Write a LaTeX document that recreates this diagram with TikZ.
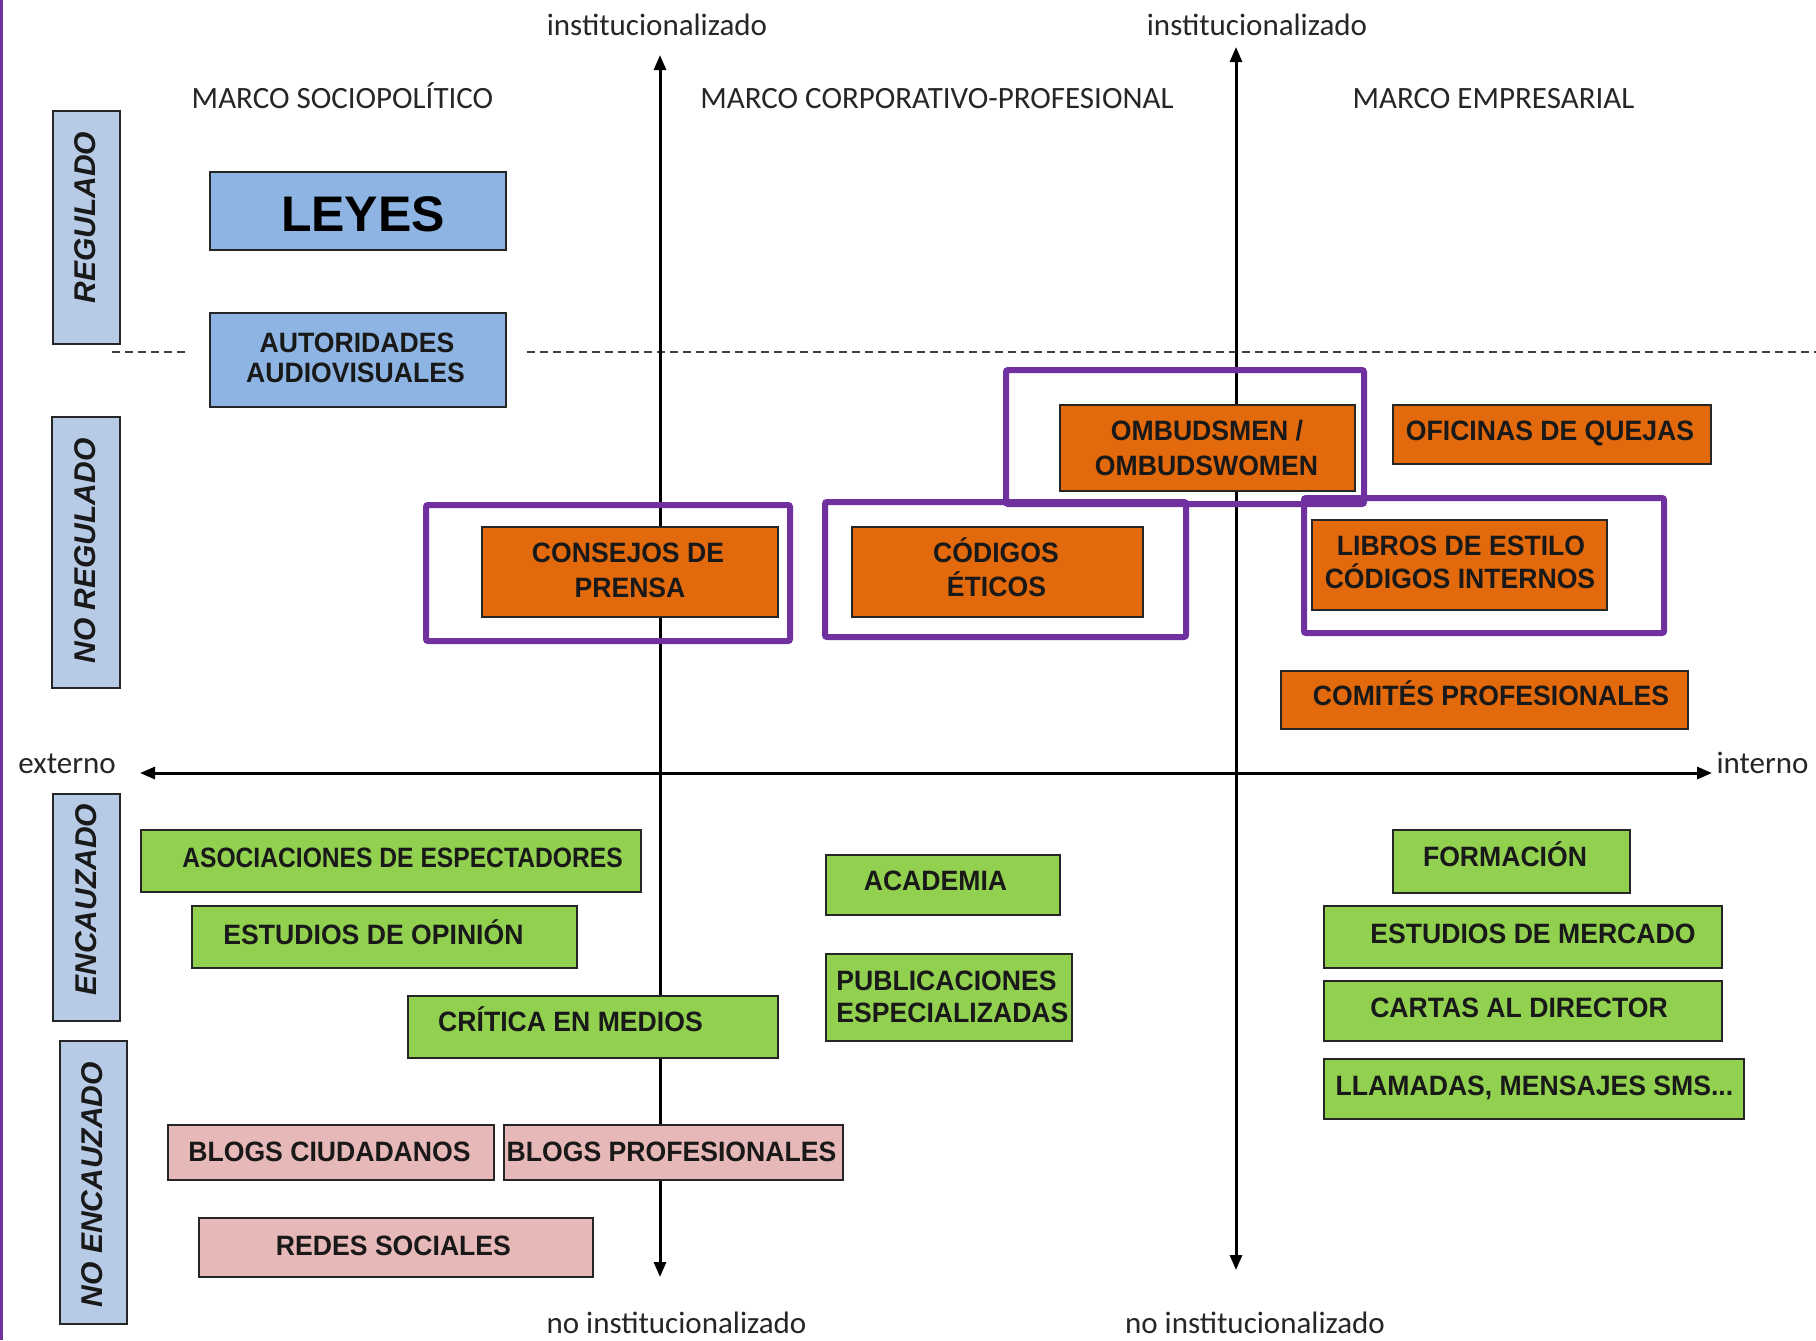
\documentclass[tikz,border=0pt]{standalone}
\usepackage{fontspec}
\setmainfont{Liberation Sans}
\newfontfamily\boxfont{Liberation Sans}[FakeStretch=0.95]
\newfontfamily\boxfontn{Liberation Sans}[FakeStretch=0.88]
\newfontfamily\vertfont{Liberation Sans}
\newfontfamily\calfont{Carlito}
\usetikzlibrary{arrows.meta}
\definecolor{lblue}{HTML}{B7CAE6}
\definecolor{mblue}{HTML}{8DB4E2}
\definecolor{orng}{HTML}{E2690C}
\definecolor{grn}{HTML}{92D050}
\definecolor{pnk}{HTML}{E6B8B7}
\definecolor{purp}{HTML}{7030A0}
\newcommand\mybox[6]{\node[#6, minimum width={(#4-#2)*0.5pt}, minimum height={(#5-#3)*0.5pt}] (#1) at ({(#2+#4)/2},{(#3+#5)/2}) {};}
\tikzset{
  bx/.style={draw=black!85, line width=0.75pt, inner sep=0pt, outer sep=0pt},
  vbox/.style={bx, fill=lblue},
  bbox/.style={bx, fill=mblue},
  obox/.style={bx, fill=orng},
  gbox/.style={bx, fill=grn},
  pbox/.style={bx, fill=pnk},
  frame/.style={draw=purp, line width=3pt, inner sep=0pt, rounded corners=1pt},
  btxt/.style={font=\boxfont\bfseries\fontsize{14pt}{16pt}\selectfont, inner sep=0pt, text height=10pt, text depth=0pt, text=black!90},
  btxtn/.style={btxt, font=\boxfontn\bfseries\fontsize{14pt}{16pt}\selectfont},
  vtxt/.style={font=\vertfont\bfseries\itshape\fontsize{15pt}{17pt}\selectfont, rotate=90, inner sep=0pt, text height=10.7pt, text depth=0pt, text=black!90},
  ctxt/.style={font=\calfont\fontsize{15.5pt}{18pt}\selectfont, inner sep=0pt, anchor=base, text=black!85},
  axis/.style={line width=1.5pt, black},
  dots/.style={line width=1pt, black!75, dash pattern=on 4pt off 2.5pt},
}
\begin{document}
\begin{tikzpicture}[x=0.5pt,y=-0.5pt]
\useasboundingbox (0,0) rectangle (1816,1340);
\fill[white] (0,0) rectangle (1816,1340);
% left purple edge
\coordinate (et) at (1.5,0);
\coordinate (eb) at (1.5,1340);
\draw[purp, line width=1.5pt] (et) -- (eb);
% dotted line
\coordinate (d1a) at (112,352);
\coordinate (d1b) at (187,352);
\coordinate (d2a) at (527,352);
\coordinate (d2b) at (1816,352);
\draw[dots] (d1a) -- (d1b);
\draw[dots] (d2a) -- (d2b);
% axes
\coordinate (v1t) at (660,55);
\coordinate (v1b) at (660,1277);
\coordinate (v2t) at (1236,47);
\coordinate (v2b) at (1236,1270);
\coordinate (hl) at (140,773);
\coordinate (hr) at (1712,773);
\draw[axis,{Triangle[length=7.5pt,width=6pt]}-{Triangle[length=7.5pt,width=6pt]}] (v1t) -- (v1b);
\draw[axis,{Triangle[length=7.5pt,width=6pt]}-{Triangle[length=7.5pt,width=6pt]}] (v2t) -- (v2b);
\draw[axis,{Triangle[length=7.5pt,width=6pt]}-{Triangle[length=7.5pt,width=6pt]}] (hl) -- (hr);
% side boxes
\mybox{regulado}{53}{111}{120}{344}{vbox}
\mybox{noregulado}{52}{417}{120}{688}{vbox}
\mybox{encauzado}{53}{794}{120}{1021}{vbox}
\mybox{noencauzado}{60}{1041}{127}{1324}{vbox}
% blue boxes
\mybox{leyes}{210}{172}{506}{250}{bbox}
\mybox{autoridades}{210}{313}{506}{407}{bbox}
% orange
\mybox{consejos}{482}{527}{778}{617}{obox}
\mybox{codigos}{852}{527}{1143}{617}{obox}
\mybox{ombuds}{1060}{405}{1355}{491}{obox}
\mybox{oficinas}{1393}{405}{1711}{464}{obox}
\mybox{libros}{1312}{520}{1607}{610}{obox}
\mybox{comites}{1281}{671}{1688}{729}{obox}
% green
\mybox{asociaciones}{141}{830}{641}{892}{gbox}
\mybox{opinion}{192}{906}{577}{968}{gbox}
\mybox{critica}{408}{996}{778}{1058}{gbox}
\mybox{academia}{826}{855}{1060}{915}{gbox}
\mybox{publicaciones}{826}{954}{1072}{1041}{gbox}
\mybox{formacion}{1393}{830}{1630}{893}{gbox}
\mybox{mercado}{1324}{906}{1722}{968}{gbox}
\mybox{cartas}{1324}{981}{1722}{1041}{gbox}
\mybox{llamadas}{1324}{1059}{1744}{1119}{gbox}
% pink
\mybox{blogsciud}{168}{1125}{494}{1180}{pbox}
\mybox{blogsprof}{504}{1125}{843}{1180}{pbox}
\mybox{redes}{199}{1218}{593}{1277}{pbox}
% purple frames
\mybox{fconsejos}{426}{505}{790}{641}{frame}
\mybox{fcodigos}{825}{502}{1186}{637}{frame}
\mybox{fombuds}{1006}{370}{1364}{504}{frame}
\mybox{flibros}{1304}{498}{1664}{633}{frame}
% vertical labels
\node[vtxt] (tregulado) at (85,217.5) {REGULADO};
\node[vtxt] (tnoregulado) at (85,551) {NO REGULADO};
\node[vtxt] (tencauzado) at (86,899.5) {ENCAUZADO};
\node[vtxt] (tnoencauzado) at (92,1184.5) {NO ENCAUZADO};
% top / axis labels
\node[ctxt] (m1) at (342.5,108) {MARCO SOCIOPOLÍTICO};
\node[ctxt] (m2) at (937,108) {MARCO CORPORATIVO-PROFESIONAL};
\node[ctxt] (m3) at (1493.5,108) {MARCO EMPRESARIAL};
\node[ctxt] (i1) at (657,35) {institucionalizado};
\node[ctxt] (i2) at (1257,35) {institucionalizado};
\node[ctxt] (n1) at (676.5,1333) {no institucionalizado};
\node[ctxt] (n2) at (1255,1333) {no institucionalizado};
\node[ctxt] (ext) at (67,773) {externo};
\node[ctxt] (int) at (1762.5,773) {interno};
% box texts
\node[font=\bfseries\fontsize{25pt}{28pt}\selectfont, inner sep=0pt, text height=17.9pt, text depth=0pt] (tleyes) at (363,213.5) {LEYES};
\node[btxt] (taut1) at (357,342) {AUTORIDADES};
\node[btxt] (taut2) at (355.5,372) {AUDIOVISUALES};
\node[btxt] (tcons1) at (628,552.5) {CONSEJOS DE};
\node[btxt] (tcons2) at (630,587) {PRENSA};
\node[btxt] (tcod1) at (996,552.5) {CÓDIGOS};
\node[btxt] (tcod2) at (996.5,586.5) {ÉTICOS};
\node[btxt] (tomb1) at (1207,430.5) {OMBUDSMEN /};
\node[btxt] (tomb2) at (1206.5,465) {OMBUDSWOMEN};
\node[btxt] (tofi) at (1550,430) {OFICINAS DE QUEJAS};
\node[btxt] (tlib1) at (1461,545) {LIBROS DE ESTILO};
\node[btxt] (tlib2) at (1460,578.5) {CÓDIGOS INTERNOS};
\node[btxt] (tcom) at (1491,695) {COMITÉS PROFESIONALES};
\node[btxtn] (tasoc) at (402.5,857) {ASOCIACIONES DE ESPECTADORES};
\node[btxt] (topin) at (373.5,934.5) {ESTUDIOS DE OPINIÓN};
\node[btxt] (tcrit) at (570.5,1021) {CRÍTICA EN MEDIOS};
\node[btxt] (tbc) at (329.5,1151) {BLOGS CIUDADANOS};
\node[btxt] (tbp) at (671.5,1151) {BLOGS PROFESIONALES};
\node[btxt] (tred) at (393.5,1245.5) {REDES SOCIALES};
\node[btxt] (tacad) at (935.5,880) {ACADEMIA};
\node[btxt, anchor=west] (tpub1) at (836,980) {PUBLICACIONES};
\node[btxt, anchor=west] (tpub2) at (836,1012) {ESPECIALIZADAS};
\node[btxt] (tform) at (1505,856) {FORMACIÓN};
\node[btxt] (tmerc) at (1533,933.5) {ESTUDIOS DE MERCADO};
\node[btxt] (tcart) at (1519,1007) {CARTAS AL DIRECTOR};
\node[btxt] (tllam) at (1534.5,1085) {LLAMADAS, MENSAJES SMS...};
\end{tikzpicture}
\end{document}
